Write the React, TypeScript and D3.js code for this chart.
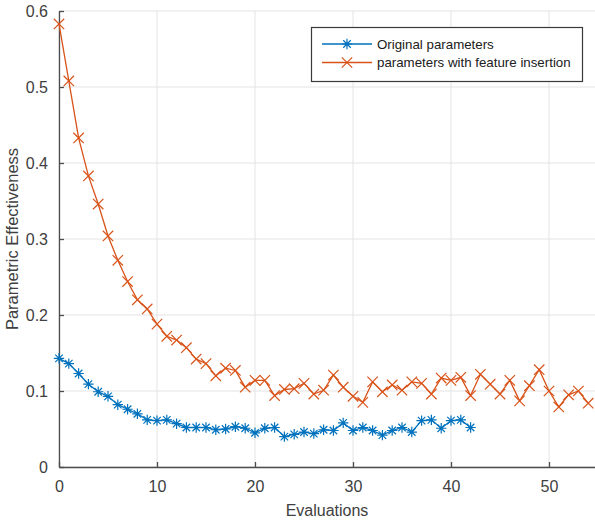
import { useEffect, useRef } from 'react'
import * as d3 from 'd3'

const original = [
  0.143, 0.136, 0.123, 0.109, 0.099, 0.093, 0.082, 0.076, 0.07, 0.062, 0.061,
  0.062, 0.057, 0.052, 0.052, 0.052, 0.049, 0.05, 0.053, 0.051, 0.045, 0.051,
  0.052, 0.04, 0.043, 0.046, 0.044, 0.049, 0.048, 0.058, 0.048, 0.052, 0.048,
  0.042, 0.048, 0.052, 0.046, 0.061, 0.062, 0.051, 0.061, 0.062, 0.052,
]

const withInsertion = [
  0.583, 0.508, 0.433, 0.383, 0.346, 0.304, 0.272, 0.244, 0.22, 0.208, 0.188,
  0.172, 0.167, 0.157, 0.142, 0.136, 0.12, 0.13, 0.127, 0.105, 0.114, 0.114,
  0.094, 0.102, 0.103, 0.11, 0.096, 0.101, 0.121, 0.105, 0.093, 0.085, 0.112,
  0.099, 0.108, 0.101, 0.112, 0.11, 0.096, 0.117, 0.114, 0.118, 0.094, 0.122,
  0.109, 0.096, 0.114, 0.087, 0.107, 0.128, 0.1, 0.079, 0.095, 0.1, 0.084,
]

const xTicks = [0, 10, 20, 30, 40, 50]
const yTicks = [0, 0.1, 0.2, 0.3, 0.4, 0.5, 0.6]
const seriesNames = ['Original parameters', 'parameters with feature insertion']

const BLUE = '#0072BD'
const ORANGE = '#D95319'
const AXIS = '#4d4d4d'
const FONT = '"Liberation Sans", Arial, sans-serif'

export default function App() {
  const svgRef = useRef<SVGSVGElement>(null)

  useEffect(() => {
    if (!svgRef.current) return
    const svg = d3.select(svgRef.current)
    svg.selectAll('*').remove()

    const left = 59
    const top = 11
    const bottom = 467
    // axis runs past the right edge of the picture (cropped)
    const x = d3.scaleLinear().domain([0, 60]).range([left, left + 588])
    const y = d3.scaleLinear().domain([0, 0.6]).range([bottom, top])

    // grid
    const grid = svg.append('g')
    xTicks.forEach(t => {
      grid.append('line')
        .attr('x1', x(t)).attr('x2', x(t)).attr('y1', top).attr('y2', bottom)
        .attr('stroke', '#e3e3e3').attr('stroke-width', 1)
    })
    yTicks.forEach(t => {
      grid.append('line')
        .attr('x1', left).attr('x2', 600).attr('y1', y(t)).attr('y2', y(t))
        .attr('stroke', '#e3e3e3').attr('stroke-width', 1)
    })

    // axes (MATLAB style: ticks inside)
    const xAxis = svg.append('g')
      .attr('transform', `translate(0,${bottom})`)
      .call(d3.axisBottom(x).tickValues(xTicks).tickSizeInner(-5).tickSizeOuter(0).tickPadding(14))
    const yAxis = svg.append('g')
      .attr('transform', `translate(${left},0)`)
      .call(d3.axisLeft(y).tickValues(yTicks).tickFormat(d3.format('~g')).tickSizeInner(-5).tickSizeOuter(0).tickPadding(11))
    ;[xAxis, yAxis].forEach(a => {
      a.select('.domain').attr('stroke', AXIS).attr('stroke-width', 1.3)
      a.selectAll('.tick line').attr('stroke', AXIS).attr('stroke-width', 1.3)
      a.selectAll('.tick text')
        .attr('fill', '#404040')
        .style('font-family', FONT)
        .style('font-size', '16px')
    })
    yAxis.selectAll('.tick text').attr('dy', '0.35em')

    // series
    const lineGen = d3.line<number>().x((_, i) => x(i)).y(d => y(d))

    const drawStar = (g: d3.Selection<SVGGElement, unknown, null, undefined>, cx: number, cy: number, color: string) => {
      const r = 5.2
      const d = r * 0.72
      const p = `M${cx - r},${cy}L${cx + r},${cy}M${cx},${cy - r}L${cx},${cy + r}` +
        `M${cx - d},${cy - d}L${cx + d},${cy + d}M${cx - d},${cy + d}L${cx + d},${cy - d}`
      g.append('path').attr('d', p).attr('stroke', color).attr('stroke-width', 1.2).attr('fill', 'none')
    }
    const drawCross = (g: d3.Selection<SVGGElement, unknown, null, undefined>, cx: number, cy: number, color: string) => {
      const d = 5.2
      const p = `M${cx - d},${cy - d}L${cx + d},${cy + d}M${cx - d},${cy + d}L${cx + d},${cy - d}`
      g.append('path').attr('d', p).attr('stroke', color).attr('stroke-width', 1.2).attr('fill', 'none')
    }

    const s2 = svg.append('g')
    s2.append('path').attr('d', lineGen(withInsertion) || '')
      .attr('fill', 'none').attr('stroke', ORANGE).attr('stroke-width', 1.3)
    withInsertion.forEach((v, i) => drawCross(s2, x(i), y(v), ORANGE))

    const s1 = svg.append('g')
    s1.append('path').attr('d', lineGen(original) || '')
      .attr('fill', 'none').attr('stroke', BLUE).attr('stroke-width', 1.3)
    original.forEach((v, i) => drawStar(s1, x(i), y(v), BLUE))

    // axis labels
    svg.append('text')
      .attr('x', 327).attr('y', 516)
      .attr('text-anchor', 'middle')
      .attr('fill', '#404040')
      .style('font-family', FONT).style('font-size', '16px')
      .text('Evaluations')
    svg.append('text')
      .attr('transform', `translate(18,${(top + bottom) / 2}) rotate(-90)`)
      .attr('text-anchor', 'middle')
      .attr('fill', '#404040')
      .style('font-family', FONT).style('font-size', '16.5px')
      .text('Parametric Effectiveness')

    // legend
    const lg = svg.append('g')
    lg.append('rect')
      .attr('x', 311.5).attr('y', 27.5).attr('width', 271).attr('height', 54)
      .attr('fill', '#fff').attr('stroke', '#3a3a3a').attr('stroke-width', 1.2)
    const colors = [BLUE, ORANGE]
    seriesNames.forEach((name, i) => {
      const ly = 44 + i * 18.5
      lg.append('line').attr('x1', 322).attr('x2', 372).attr('y1', ly).attr('y2', ly)
        .attr('stroke', colors[i]).attr('stroke-width', 1.3)
      if (i === 0) drawStar(lg, 347, ly, BLUE)
      else drawCross(lg, 347, ly, ORANGE)
      lg.append('text')
        .attr('x', 377).attr('y', ly).attr('dy', '0.35em')
        .attr('fill', '#202020')
        .style('font-family', FONT).style('font-size', '13.3px')
        .text(name)
    })
  }, [])

  return (
    <svg
      ref={svgRef}
      width={595}
      height={521}
      style={{ position: 'absolute', left: 0, top: 0, background: '#fff' }}
    />
  )
}
